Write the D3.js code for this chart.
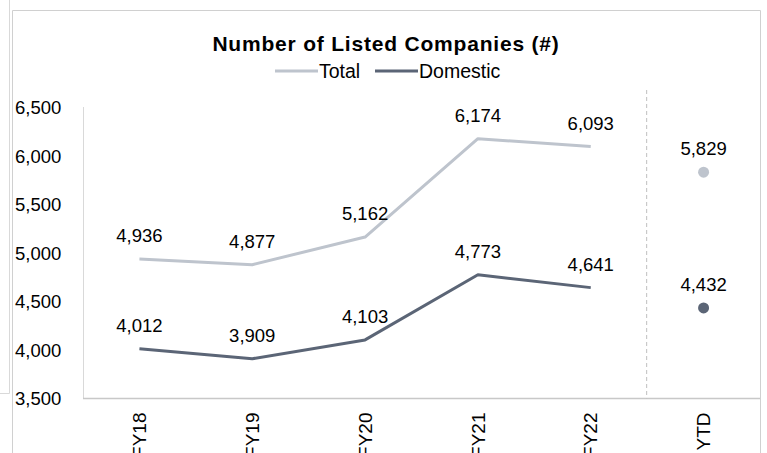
<!DOCTYPE html>
<html>
<head>
<meta charset="utf-8">
<script src="https://cdn.jsdelivr.net/npm/d3@7"></script>
<style>
  html, body { margin: 0; padding: 0; background: #fff; }
  svg { display: block; }
  text { font-family: "Liberation Sans", Arial, sans-serif; fill: #000; }
</style>
</head>
<body>
<svg id="chart" width="767" height="453"></svg>
<script>
const categories = ["FY18", "FY19", "FY20", "FY21", "FY22", "YTD"];
const totalValues = [4936, 4877, 5162, 6174, 6093, 5829];
const domesticValues = [4012, 3909, 4103, 4773, 4641, 4432];
const yTicks = [3500, 4000, 4500, 5000, 5500, 6000, 6500];
const seriesNames = ["Total", "Domestic"];
const title = "Number of Listed Companies (#)";

const colors = { Total: "#BEC4CD", Domestic: "#5B6576" };
const series = [
  { name: "Total", values: totalValues },
  { name: "Domestic", values: domesticValues }
];

const svg = d3.select("#chart");
const W = 767, H = 453;
const plot = { left: 83, right: 760, top: 107, bottom: 398.5 };

svg.append("rect").attr("width", W).attr("height", H).attr("fill", "#fff");

// ghost frame at far left
svg.append("line").attr("x1", 9.5).attr("x2", 9.5).attr("y1", 0).attr("y2", 393.5)
  .attr("stroke", "#d9d9d9");
svg.append("line").attr("x1", 0).attr("x2", 9.5).attr("y1", 393.5).attr("y2", 393.5)
  .attr("stroke", "#d9d9d9");

// chart frame
svg.append("path")
  .attr("d", `M12.5,${H + 2}V10.5H760.5V${H + 2}`)
  .attr("fill", "none").attr("stroke", "#d0d0d0");

const x = d3.scaleBand().domain(categories).range([plot.left, plot.right]).padding(0);
const y = d3.scaleLinear().domain([3500, 6500]).range([plot.bottom, plot.top]);
const cx = d => x(d) + x.bandwidth() / 2;

// title
svg.append("text")
  .attr("x", 386).attr("y", 51)
  .attr("text-anchor", "middle")
  .style("font-size", "21px").style("font-weight", "bold")
  .style("letter-spacing", "0.8px")
  .text(title);

// legend
const legendItems = [
  { name: "Total", x1: 275, x2: 318 },
  { name: "Domestic", x1: 375, x2: 418 }
];
const lg = svg.append("g");
legendItems.forEach(it => {
  lg.append("line").attr("x1", it.x1).attr("x2", it.x2).attr("y1", 71).attr("y2", 71)
    .attr("stroke", colors[it.name]).attr("stroke-width", 3);
  lg.append("text").attr("x", it.x2 + 1).attr("y", 77.5)
    .style("font-size", "19.5px").text(it.name);
});

// y axis
const yAxis = d3.axisLeft(y).tickValues(yTicks).tickSize(0).tickFormat(d3.format(","));
const yg = svg.append("g").attr("transform", `translate(${plot.left},0)`).call(yAxis);
yg.select(".domain").remove();
yg.selectAll(".tick text")
  .attr("x", 15 - plot.left).attr("dy", "0.35em")
  .attr("text-anchor", "start")
  .style("font-size", "18.5px").style("font-family", "'Liberation Sans', Arial, sans-serif")
  .attr("fill", "#000");
svg.append("line").attr("x1", plot.left + 0.5).attr("x2", plot.left + 0.5)
  .attr("y1", plot.top).attr("y2", plot.bottom)
  .attr("stroke", "#d9d9d9");

// x axis
const xAxis = d3.axisBottom(x).tickSize(0);
const xg = svg.append("g").attr("transform", `translate(0,${plot.bottom})`).call(xAxis);
xg.select(".domain").remove();
xg.selectAll(".tick text")
  .attr("transform", "translate(0,14) rotate(-90)")
  .attr("x", 0).attr("y", 0).attr("dy", "0.35em")
  .attr("text-anchor", "end")
  .style("font-size", "19px").style("font-family", "'Liberation Sans', Arial, sans-serif")
  .attr("fill", "#000");
svg.append("line").attr("x1", plot.left).attr("x2", plot.right)
  .attr("y1", plot.bottom).attr("y2", plot.bottom)
  .attr("stroke", "#c8c8c8").attr("stroke-width", 1.5);

// dashed separator before YTD
svg.append("line")
  .attr("x1", x("YTD") - 0.5).attr("x2", x("YTD") - 0.5)
  .attr("y1", 90).attr("y2", plot.bottom)
  .attr("stroke", "#bfbfbf").attr("stroke-dasharray", "4,3");

// lines (fiscal years) and YTD dots
const fyCats = categories.slice(0, 5);
const line = d3.line().x(d => cx(d.c)).y(d => y(d.v));
series.forEach(s => {
  const pts = fyCats.map((c, i) => ({ c, v: s.values[i] }));
  svg.append("path").datum(pts)
    .attr("d", line).attr("fill", "none")
    .attr("stroke", colors[s.name]).attr("stroke-width", 3)
    .attr("stroke-linejoin", "round");
  svg.append("circle")
    .attr("cx", cx("YTD")).attr("cy", y(s.values[5])).attr("r", 5.5)
    .attr("fill", colors[s.name]);
  svg.append("g").selectAll("text").data(categories.map((c, i) => ({ c, v: s.values[i] })))
    .join("text")
    .attr("x", d => cx(d.c)).attr("y", d => y(d.v) - 17)
    .attr("text-anchor", "middle")
    .style("font-size", "18.5px")
    .text(d => d3.format(",")(d.v));
});
</script>
</body>
</html>
